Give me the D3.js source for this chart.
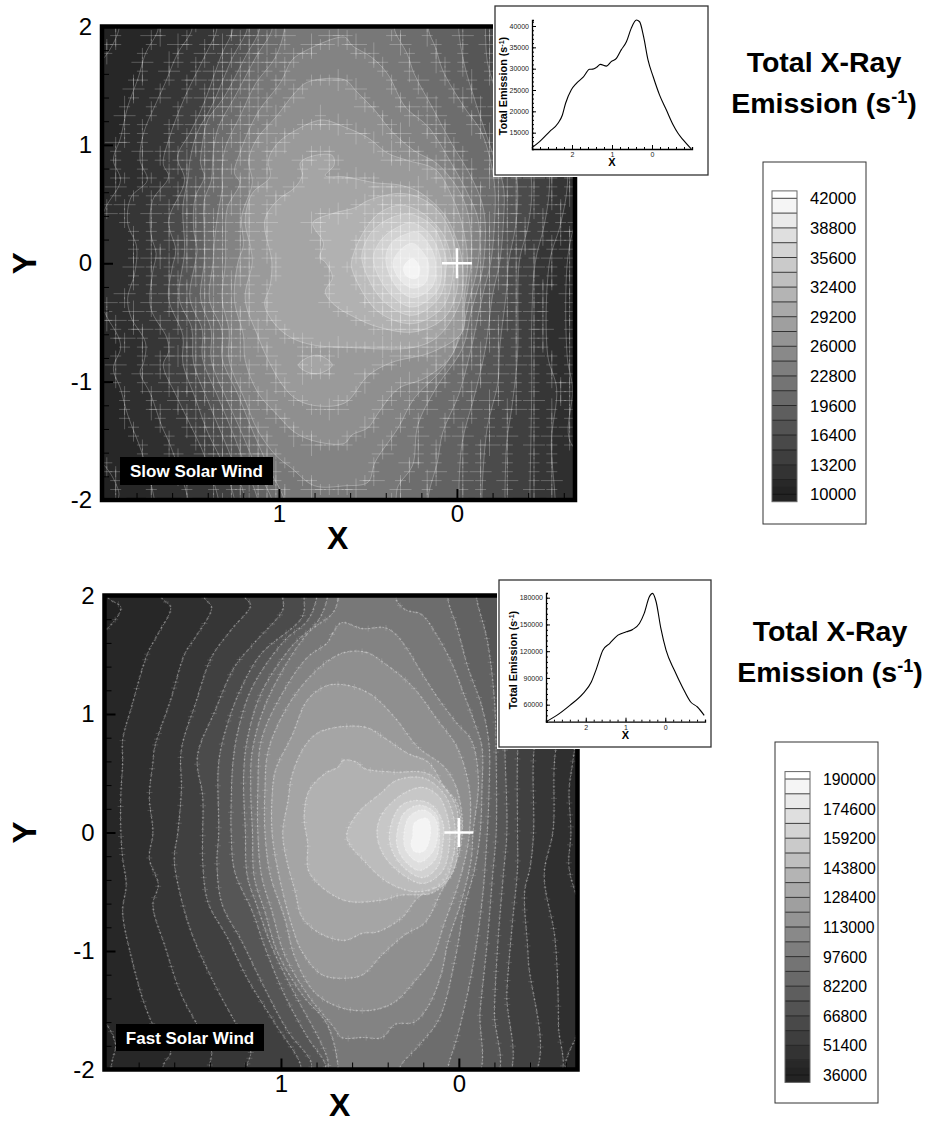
<!DOCTYPE html>
<html>
<head>
<meta charset="utf-8">
<script src="https://cdn.jsdelivr.net/npm/d3@7"></script>
<style>
  body { margin: 0; background: #fff; }
  text { font-family: "Liberation Sans", Arial, sans-serif; fill: #000; }
</style>
</head>
<body>
<div id="chart"></div>
<script>
// contour levels, one outline per level ([X, Y], points past the frame close open lines)
const slowLevels = [10000, 11600, 13200, 14800, 16400, 18000, 19600, 21200, 22800, 24400, 26000, 27600, 29200, 29200, 30800, 32400, 34000, 35600, 37200, 38800, 40400];
const slowOutlines = [
  [[1.90,2.09],[1.90,1.97],[1.98,1.74],[2.09,1.6],[2.09,-1.6],[1.98,-1.71],[1.90,-1.93],[1.90,-2.09],[-.8,-2.09],[-.8,2.09]],
  [[1.68,2.09],[1.68,1.97],[1.75,1.77],[1.79,1.57],[1.85,1.32],[1.89,1.06],[1.93,.87],[1.89,.70],[1.98,.45],[2.06,.01],[1.98,-.41],[1.90,-.63],[1.89,-.72],[1.93,-.89],[1.89,-1.06],[1.85,-1.28],[1.77,-1.60],[1.70,-2.0],[1.70,-2.09],[-.75,-2.09],[-.75,-1.75],[-.63,-1.48],[-.65,-1.06],[-.62,-.80],[-.62,.01],[-.66,.32],[-.75,.66],[-.75,1.97],[-.75,2.09]],
  [[1.49,2.09],[1.49,1.97],[1.57,1.77],[1.64,1.52],[1.70,1.32],[1.76,1.10],[1.78,.87],[1.74,.70],[1.83,.56],[1.85,.34],[1.80,.14],[1.81,-.08],[1.85,-.30],[1.83,-.46],[1.75,-.67],[1.76,-.84],[1.78,-.92],[1.72,-1.11],[1.66,-1.37],[1.61,-1.54],[1.51,-2],[1.51,-2.09],[-.55,-2.09],[-.55,-1.96],[-.53,-1.51],[-.56,-1.06],[-.51,-.78],[-.52,.01],[-.58,.32],[-.62,.66],[-.61,1.38],[-.58,1.97],[-.58,2.09]],
  [[1.35,2.09],[1.35,1.97],[1.42,1.74],[1.53,1.40],[1.62,1.04],[1.65,.84],[1.62,.73],[1.71,.53],[1.72,.25],[1.69,.08],[1.71,-.08],[1.72,-.38],[1.63,-.63],[1.62,-.75],[1.65,-.86],[1.58,-1.11],[1.49,-1.39],[1.42,-1.62],[1.34,-2],[1.34,-2.09],[-.41,-2.09],[-.41,-1.96],[-.42,-1.06],[-.42,-.50],[-.44,.01],[-.49,.32],[-.52,.66],[-.49,1.38],[-.44,1.97],[-.44,2.09]],
  [[1.26,2.09],[1.26,1.97],[1.32,1.77],[1.43,1.32],[1.50,1.10],[1.57,.90],[1.53,.70],[1.62,.36],[1.58,.11],[1.60,-.04],[1.62,-.30],[1.54,-.61],[1.54,-.84],[1.47,-1.14],[1.40,-1.43],[1.32,-1.68],[1.25,-2],[1.25,-2.09],[-.27,-2.09],[-.27,-1.96],[-.28,-1.51],[-.31,-1.20],[-.34,-.78],[-.35,.01],[-.40,.32],[-.42,.66],[-.35,1.38],[-.30,1.97],[-.30,2.09]],
  [[1.18,2.09],[1.18,1.97],[1.26,1.74],[1.38,1.32],[1.46,1.10],[1.50,.87],[1.51,.73],[1.54,.47],[1.53,.11],[1.56,-.30],[1.49,-.55],[1.48,-.84],[1.40,-1.16],[1.32,-1.45],[1.25,-1.71],[1.19,-2],[1.19,-2.09],[-.14,-2.09],[-.14,-1.96],[-.17,-1.39],[-.23,-1.01],[-.24,-.72],[-.28,-.21],[-.29,.01],[-.33,.32],[-.34,.66],[-.30,1.04],[-.21,1.49],[-.17,1.71],[-.16,1.97],[-.16,2.09]],
  [[1.11,2.09],[1.11,1.97],[1.19,1.74],[1.31,1.40],[1.40,1.21],[1.43,1.01],[1.44,.84],[1.42,.73],[1.47,.56],[1.48,.30],[1.46,.11],[1.47,.01],[1.50,-.30],[1.43,-.57],[1.43,-.80],[1.34,-1.14],[1.26,-1.43],[1.19,-1.71],[1.12,-2],[1.12,-2.09],[-.01,-2.09],[-.01,-1.96],[-.03,-1.51],[-.10,-1.11],[-.16,-.72],[-.20,-.27],[-.24,.01],[-.26,.32],[-.26,.66],[-.20,.93],[-.10,1.38],[-.04,1.69],[-.01,1.97],[-.01,2.09]],
  [[1.04,2.09],[1.04,1.97],[1.13,1.74],[1.25,1.40],[1.34,1.15],[1.37,.93],[1.38,.70],[1.42,.53],[1.42,.25],[1.42,.01],[1.44,-.30],[1.38,-.57],[1.38,-.82],[1.29,-1.16],[1.21,-1.43],[1.12,-1.75],[1.04,-2],[1.04,-2.09],[.16,-2.09],[.16,-1.96],[.11,-1.68],[.08,-1.43],[-.01,-1.11],[-.08,-.72],[-.14,-.30],[-.19,.01],[-.21,.32],[-.21,.68],[-.14,1.10],[-.04,1.32],[.08,1.63],[.12,1.82],[.16,1.97],[.16,2.09]],
  [[.97,2.09],[.97,1.97],[1.02,1.74],[1.13,1.52],[1.21,1.27],[1.30,.98],[1.32,.81],[1.32,.62],[1.34,.45],[1.36,.22],[1.37,.01],[1.39,-.31],[1.32,-.57],[1.32,-.80],[1.23,-1.11],[1.15,-1.41],[1.05,-1.75],[.97,-2],[.97,-2.09],[.37,-2.09],[.33,-1.88],[.25,-1.71],[.22,-1.37],[.12,-1.06],[-.03,-.72],[-.08,-.41],[-.15,.01],[-.15,.45],[-.08,.73],[.03,1.01],[.14,1.32],[.24,1.60],[.28,1.77],[.35,1.97],[.35,2.09]],
  [[.63,1.91],[.87,1.78],[.93,1.71],[.99,1.53],[1.12,1.27],[1.22,.93],[1.25,.76],[1.22,.68],[1.29,.47],[1.30,.22],[1.30,.01],[1.32,-.30],[1.28,-.57],[1.28,-.82],[1.19,-1.16],[1.12,-1.41],[1.02,-1.62],[.93,-1.73],[.80,-1.88],[.63,-1.88],[.50,-1.85],[.46,-1.68],[.33,-1.39],[.24,-1.14],[.08,-.89],[-.01,-.65],[-.07,-.31],[-.12,.01],[-.12,.36],[-.06,.59],[.03,.84],[.16,1.15],[.29,1.32],[.39,1.60],[.48,1.74],[.59,1.84]],
  [[.63,1.55],[.84,1.53],[.91,1.44],[1.02,1.23],[1.12,1.06],[1.17,.87],[1.15,.68],[1.21,.39],[1.20,.15],[1.23,.01],[1.25,-.31],[1.20,-.61],[1.19,-.82],[1.12,-1.09],[1.01,-1.28],[.91,-1.43],[.78,-1.51],[.63,-1.52],[.59,-1.45],[.50,-1.39],[.44,-1.26],[.33,-1.06],[.18,-.97],[.03,-.78],[-.03,-.44],[-.08,.01],[-.07,.36],[-.02,.59],[.11,.84],[.24,.95],[.37,1.12],[.46,1.29],[.57,1.46]],
  [[.63,1.15],[.76,1.21],[.91,1.12],[1.01,1.01],[1.06,.87],[1.05,.73],[1.15,.59],[1.19,.36],[1.16,.14],[1.15,.01],[1.19,-.30],[1.12,-.61],[1.06,-.82],[.98,-1.03],[.91,-1.14],[.81,-1.20],[.63,-1.18],[.50,-.95],[.37,-.84],[.14,-.75],[-.03,-.58],[-.04,-.31],[-.06,.01],[-.03,.32],[.03,.57],[.12,.79],[.28,.87],[.39,.93],[.50,1.06]],
  [[1.04,.01],[1.08,.36],[1.01,.53],[.91,.64],[.87,.74],[.88,.85],[.80,.91],[.70,.91],[.69,.83],[.74,.74],[.63,.73],[.46,.68],[.32,.66],[.21,.60],[.07,.41],[0,.19],[-.03,.01],[-.02,-.31],[.10,-.61],[.24,-.71],[.63,-.71],[.81,-.69],[.93,-.63],[1.02,-.52],[1.08,-.35],[1.05,-.19]],
  [[.89,-.86],[.83,-.79],[.77,-.78],[.70,-.86],[.77,-.93],[.84,-.92]],
  [[.81,.34],[.70,.42],[.57,.47],[.50,.53],[.33,.59],[.22,.56],[.11,.45],[.03,.24],[0,.01],[0,-.23],[.07,-.46],[.24,-.58],[.44,-.54],[.57,-.46],[.69,-.35],[.74,-.24],[.70,-.12],[.74,.01],[.77,.05],[.75,.17]],
  [[.59,.03],[.53,.25],[.44,.42],[.32,.49],[.20,.43],[.08,.25],[.03,.03],[.02,-.06],[.08,-.37],[.25,-.51],[.45,-.40],[.59,-.05]],
  [[.53,.11],[.47,.28],[.36,.39],[.25,.41],[.13,.30],[.06,.03],[.06,-.03],[.10,-.29],[.25,-.44],[.42,-.31],[.53,0]],
  [[.47,.03],[.43,.19],[.34,.30],[.25,.34],[.15,.24],[.09,.01],[.11,-.23],[.25,-.37],[.38,-.25]],
  [[.40,.03],[.37,.17],[.28,.25],[.22,.26],[.15,.14],[.12,0],[.14,-.20],[.25,-.29],[.34,-.20]],
  [[.36,0],[.32,.11],[.25,.17],[.20,.11],[.16,0],[.18,-.17],[.25,-.21],[.32,-.14]],
  [[.30,-.03],[.25,.04],[.21,-.03],[.22,-.12],[.25,-.13],[.29,-.10]]
];

const fastLevels = [36000, 43700, 51400, 59100, 66800, 74500, 82200, 89900, 97600, 105300, 113000, 120700, 128400, 136100, 143800, 151500, 159200, 166900, 174600, 182300];
const fastOutlines = [
  [[1.97,2.09],[1.97,1.98],[1.90,1.90],[1.97,1.73],[2.09,1.6],[2.09,-1.45],[1.98,-1.62],[1.93,-1.79],[1.95,-1.94],[1.95,-2.09],[-.8,-2.09],[-.8,2.09]],
  [[1.67,2.09],[1.67,1.98],[1.62,1.90],[1.69,1.68],[1.75,1.51],[1.84,1.06],[1.89,.78],[1.89,.59],[1.90,.33],[1.90,0],[1.89,-.22],[1.87,-.44],[1.89,-.67],[1.84,-1.06],[1.76,-1.48],[1.69,-1.71],[1.62,-1.85],[1.66,-1.96],[1.66,-2.09],[-.60,-2.09],[-.60,-1.94],[-.69,-1.6],[-.74,-1.0],[-.69,-.67],[-.62,-.30],[-.63,0],[-.62,.36],[-.64,.59],[-.69,1.12],[-.74,1.98],[-.74,2.09]],
  [[1.43,2.09],[1.43,1.98],[1.39,1.90],[1.48,1.65],[1.54,1.51],[1.62,1.12],[1.71,.72],[1.72,.59],[1.74,.30],[1.72,0],[1.74,-.22],[1.69,-.44],[1.72,-.61],[1.65,-.97],[1.56,-1.37],[1.43,-1.73],[1.39,-1.85],[1.40,-1.96],[1.40,-2.09],[-.55,-2.09],[-.56,-1.62],[-.54,-.89],[-.48,-.36],[-.53,.02],[-.54,.64],[-.60,1.12],[-.62,1.98],[-.62,2.09]],
  [[1.20,2.09],[1.20,1.98],[1.17,1.92],[1.28,1.71],[1.39,1.48],[1.48,1.09],[1.56,.70],[1.56,.36],[1.58,0],[1.60,-.22],[1.57,-.50],[1.50,-.86],[1.37,-1.29],[1.24,-1.65],[1.17,-1.85],[1.19,-1.96],[1.19,-2.09],[-.40,-2.09],[-.39,-1.06],[-.37,-.50],[-.40,-.30],[-.42,0],[-.42,.64],[-.46,1.12],[-.51,1.98],[-.51,2.09]],
  [[.99,2.09],[.99,1.98],[.99,1.88],[1.15,1.60],[1.26,1.40],[1.37,1.03],[1.47,.64],[1.44,.30],[1.44,0],[1.44,-.25],[1.41,-.59],[1.30,-.89],[1.19,-1.23],[1.03,-1.62],[.89,-1.96],[.89,-2.09],[-.26,-2.09],[-.27,-1.35],[-.30,-.78],[-.33,-.30],[-.33,0],[-.33,.64],[-.35,1.12],[-.40,1.98],[-.40,2.09]],
  [[.87,2.09],[.87,1.98],[.88,1.82],[1.11,1.51],[1.22,1.23],[1.30,.92],[1.35,.59],[1.35,0],[1.36,-.27],[1.33,-.61],[1.22,-.92],[1.11,-1.26],[.96,-1.68],[.83,-1.94],[.83,-2.09],[-.20,-2.09],[-.20,-1.51],[-.22,-.92],[-.25,-.36],[-.27,0],[-.26,.64],[-.25,1.12],[-.23,1.98],[-.23,2.09]],
  [[.80,2.09],[.80,1.98],[.85,1.79],[.98,1.62],[1.16,1.23],[1.24,.87],[1.27,.59],[1.28,.25],[1.28,0],[1.26,-.33],[1.16,-.67],[1.09,-.97],[.98,-1.37],[.85,-1.73],[.75,-1.96],[.75,-2.09],[-.09,-2.09],[-.12,-1.50],[-.16,-.92],[-.19,-.36],[-.21,0],[-.21,.61],[-.20,1.12],[-.16,1.62],[-.10,1.98],[-.10,2.09]],
  [[.74,2.09],[.74,1.98],[.79,1.79],[.94,1.57],[1.11,1.18],[1.19,.78],[1.21,.47],[1.20,0],[1.19,-.36],[1.13,-.64],[1.05,-.97],[.92,-1.37],[.79,-1.73],[.74,-1.90],[.71,-2.09],[.06,-2.09],[.06,-1.98],[.01,-1.73],[-.07,-1.20],[-.13,-.59],[-.16,0],[-.17,.36],[-.17,.74],[-.13,1.06],[-.05,1.40],[.01,1.73],[.06,1.96],[.06,2.09]],
  [[.68,2.09],[.68,1.96],[.71,1.85],[.85,1.68],[1.07,1.14],[1.16,.70],[1.17,.36],[1.16,0],[1.15,-.38],[1.09,-.67],[1.02,-1.01],[.88,-1.37],[.74,-1.62],[.68,-1.96],[.68,-2.09],[.33,-2.09],[.33,-1.98],[.22,-1.79],[.11,-1.57],[.02,-1.06],[-.03,-.64],[-.09,-.30],[-.12,0],[-.13,.36],[-.13,.72],[-.09,.92],[-.02,1.20],[.04,1.43],[.13,1.68],[.21,1.84],[.30,1.88],[.35,1.96],[.35,2.09]],
  [[.74,1.60],[.71,1.68],[.66,1.77],[.54,1.72],[.42,1.73],[.36,1.68],[.30,1.57],[.21,1.35],[.12,1.14],[.01,.92],[-.07,.78],[-.11,.44],[-.08,0],[-.07,-.22],[-.02,-.55],[.06,-.92],[.10,-1.20],[.17,-1.46],[.25,-1.60],[.36,-1.62],[.43,-1.73],[.54,-1.73],[.66,-1.73],[.70,-1.65],[.85,-1.37],[.98,-1.03],[1.05,-.67],[1.11,-.36],[1.13,0],[1.13,.36],[1.11,.78],[.99,1.18],[.85,1.48]],
  [[.64,1.52],[.52,1.52],[.42,1.43],[.26,1.23],[.12,.95],[.01,.72],[-.06,.36],[-.06,0],[-.04,-.19],[.01,-.47],[.08,-.76],[.15,-1.06],[.25,-1.26],[.36,-1.43],[.49,-1.50],[.66,-1.48],[.81,-1.35],[.92,-1.06],[.98,-.72],[1.06,-.36],[1.09,0],[1.09,.36],[1.07,.70],[.94,1.12],[.77,1.41]],
  [[.74,1.24],[.62,1.24],[.49,1.16],[.36,.97],[.23,.72],[.08,.55],[.01,.36],[-.02,0],[.02,-.27],[.10,-.50],[.19,-.76],[.30,-.86],[.43,-1.03],[.54,-1.20],[.64,-1.23],[.77,-1.20],[.88,-1.01],[.94,-.78],[1.02,-.30],[1.05,0],[1.05,.30],[1.03,.53],[.94,.81],[.85,1.12]],
  [[.78,.85],[.53,.89],[.40,.78],[.29,.67],[.17,.59],[.08,.38],[.01,.25],[-.01,0],[.04,-.22],[.10,-.42],[.23,-.55],[.32,-.72],[.46,-.84],[.54,-.85],[.64,-.91],[.77,-.86],[.88,-.72],[.92,-.50],[.97,-.22],[.99,0],[.96,.27],[.94,.47],[.87,.72]],
  [[.68,.55],[.65,.61],[.57,.59],[.53,.54],[.37,.51],[.18,.50],[.07,.36],[.01,.19],[.01,-.02],[.01,-.21],[.05,-.38],[.15,-.51],[.33,-.53],[.43,-.57],[.65,-.57],[.84,-.34],[.85,-.09],[.87,.13],[.84,.36],[.74,.51]],
  [[.63,-.04],[.57,.16],[.44,.33],[.35,.44],[.20,.46],[.09,.34],[.04,.19],[.02,0],[.04,-.26],[.09,-.43],[.24,-.50],[.40,-.42],[.52,-.26]],
  [[.46,0],[.43,.16],[.31,.33],[.20,.38],[.11,.30],[.06,.11],[.05,-.04],[.09,-.32],[.20,-.43],[.33,-.34],[.43,-.17]],
  [[.39,0],[.33,.22],[.24,.27],[.15,.23],[.09,.08],[.09,-.09],[.12,-.29],[.20,-.38],[.29,-.32],[.37,-.17]],
  [[.35,-.04],[.31,.16],[.22,.23],[.13,.16],[.11,0],[.13,-.22],[.22,-.32],[.29,-.26],[.34,-.15]],
  [[.31,-.06],[.28,.13],[.20,.19],[.13,.11],[.12,-.04],[.15,-.17],[.22,-.25],[.29,-.17]],
  [[.26,-.04],[.25,.08],[.18,.12],[.16,.05],[.17,-.09],[.20,-.16],[.25,-.16],[.27,-.09]]
];

// inset curves
const slowCurveX = [3,2.81,2.56,2.35,2.24,2.16,2.02,1.89,1.72,1.56,1.48,1.39,1.29,1.14,1.02,.89,.77,.64,.52,.39,.31,.21,.10,-.03,-.19,-.36,-.53,-.65,-.78,-.98];
const slowCurveY = [11500,12900,15250,17200,19150,21900,25000,26550,28000,29850,29900,30300,31000,30600,31650,32400,34400,36300,39450,41400,41000,37500,32050,28100,23800,20300,16800,14850,13300,11200];
const fastCurveX = [3,2.73,2.40,2.07,1.86,1.73,1.57,1.40,1.19,.98,.82,.65,.53,.40,.32,.23,.11,-.02,-.23,-.43,-.64,-.81,-.98];
const fastCurveY = [41000,48000,59250,72400,85500,100500,121100,128600,138000,141750,144400,151100,162400,181100,184900,175500,145500,121100,98600,79900,63000,57400,48000];

const slowLegendLabels = [42000,38800,35600,32400,29200,26000,22800,19600,16400,13200,10000];
const fastLegendLabels = [190000,174600,159200,143800,128400,113000,97600,82200,66800,51400,36000];

const xTickLabels = [1, 0];
const yTickLabels = [2, 1, 0, -1, -2];

const svg = d3.select('#chart').append('svg')
  .attr('width', 925)
  .attr('height', 1124);

let panelId = 0;

function drawContours(cfg) {
  const x = d3.scaleLinear().domain(cfg.xDomain).range(cfg.xRange);
  const y = d3.scaleLinear().domain([2, -2]).range(cfg.yRange);
  const span = cfg.valueRange[1] - cfg.valueRange[0];
  // the flood runs a little darker than the legend at its low end
  const grey = d3.scaleLinear()
    .domain([cfg.valueRange[0], cfg.valueRange[0] + span * 0.15, cfg.valueRange[1]])
    .range(['#232323', '#3a3a3a', '#fafafa']);
  const step = cfg.step;

  const id = 'clip' + (panelId++);
  svg.append('clipPath').attr('id', id).append('rect')
    .attr('x', cfg.xRange[0]).attr('y', cfg.yRange[0])
    .attr('width', cfg.xRange[1] - cfg.xRange[0])
    .attr('height', cfg.yRange[1] - cfg.yRange[0]);

  const plot = svg.append('g').attr('clip-path', 'url(#' + id + ')');

  plot.append('rect')
    .attr('x', cfg.xRange[0]).attr('y', cfg.yRange[0])
    .attr('width', cfg.xRange[1] - cfg.xRange[0])
    .attr('height', cfg.yRange[1] - cfg.yRange[0])
    .attr('fill', '#222');

  const outline = d3.line()
    .x(d => x(d[0]))
    .y(d => y(d[1]))
    .curve(d3.curveCatmullRomClosed.alpha(0.5));

  const paths = plot.selectAll('path.band')
    .data(cfg.outlines)
    .enter()
    .append('path')
    .attr('class', 'band')
    .attr('d', outline)
    .attr('fill', (d, i) => grey(cfg.levels[i] + step / 2))
    .attr('stroke', 'rgba(255,255,255,' + cfg.lineAlpha + ')')
    .attr('stroke-width', 0.9)
    .attr('stroke-dasharray', cfg.dash);

  // the mesh shows through along each contour line, like in the tecplot export
  let d = '';
  const seen = new Set();
  paths.each(function() {
    const len = this.getTotalLength();
    for (let s = 0; s < len; s += cfg.walk) {
      const p = this.getPointAtLength(s);
      if (p.x < cfg.xRange[0] || p.x > cfg.xRange[1] || p.y < cfg.yRange[0] || p.y > cfg.yRange[1]) continue;
      const ix = Math.round(p.x / cfg.cell);
      const iy = Math.round(p.y / cfg.cell);
      const key = ix + '_' + iy;
      if (seen.has(key)) continue;
      seen.add(key);
      const gx = cfg.snap ? ix * cfg.cell : p.x;
      const gy = cfg.snap ? iy * cfg.cell : p.y;
      const hArm = (ix * 3 + iy) % 5 === 0 ? cfg.arm * 2 : cfg.arm;
      const vArm = (ix + iy * 3) % 5 === 0 ? cfg.arm * 2 : cfg.arm;
      d += 'M' + (gx - hArm) + ',' + gy + 'H' + (gx + hArm);
      d += 'M' + gx + ',' + (gy - vArm) + 'V' + (gy + vArm);
    }
  });
  plot.append('path')
    .attr('d', d)
    .attr('fill', 'none')
    .attr('stroke', 'rgba(255,255,255,' + cfg.meshAlpha + ')')
    .attr('stroke-width', cfg.meshWidth);

  // frame
  svg.append('rect')
    .attr('x', cfg.xRange[0]).attr('y', cfg.yRange[0])
    .attr('width', cfg.xRange[1] - cfg.xRange[0])
    .attr('height', cfg.yRange[1] - cfg.yRange[0])
    .attr('fill', 'none')
    .attr('stroke', '#000')
    .attr('stroke-width', 4.5);

  // axes, ticks point into the plot
  const minorX = d3.range(-0.6, 1.99, 0.2);
  const minorY = d3.range(-1.8, 1.99, 0.2);
  svg.append('g')
    .attr('transform', 'translate(0,' + cfg.yRange[1] + ')')
    .call(d3.axisBottom(x).tickValues(minorX).tickSize(-7).tickFormat(''))
    .call(g => g.select('.domain').remove());
  svg.append('g')
    .attr('transform', 'translate(' + cfg.xRange[0] + ',0)')
    .call(d3.axisLeft(y).tickValues(minorY).tickSize(-7).tickFormat(''))
    .call(g => g.select('.domain').remove());

  const xMajor = svg.append('g')
    .attr('transform', 'translate(0,' + cfg.yRange[1] + ')')
    .call(d3.axisBottom(x).tickValues(xTickLabels).tickSize(-11).tickPadding(5).tickFormat(d => d))
    .call(g => g.select('.domain').remove());
  const yMajor = svg.append('g')
    .attr('transform', 'translate(' + cfg.xRange[0] + ',0)')
    .call(d3.axisLeft(y).tickValues(yTickLabels).tickSize(-11).tickPadding(10).tickFormat(d => d))
    .call(g => g.select('.domain').remove());
  xMajor.selectAll('line').attr('stroke-width', 2);
  yMajor.selectAll('line').attr('stroke-width', 2);
  xMajor.selectAll('text').style('font-size', '24px');
  yMajor.selectAll('text').style('font-size', '24px');

  svg.append('text')
    .attr('x', x(0.67)).attr('y', cfg.xLabelY)
    .attr('text-anchor', 'middle')
    .style('font-size', '32px').style('font-weight', 'bold')
    .text('X');
  svg.append('text')
    .attr('transform', 'translate(36,' + y(0) + ') rotate(-90)')
    .attr('text-anchor', 'middle')
    .style('font-size', '33px').style('font-weight', 'bold')
    .text('Y');

  // sun marker
  const cross = svg.append('g').attr('stroke', '#fff').attr('stroke-width', 2.5);
  cross.append('line').attr('x1', x(0) - cfg.crossArm).attr('x2', x(0) + cfg.crossArm).attr('y1', y(0)).attr('y2', y(0));
  cross.append('line').attr('x1', x(0)).attr('x2', x(0)).attr('y1', y(0) - cfg.crossArm).attr('y2', y(0) + cfg.crossArm);

  svg.append('rect')
    .attr('x', cfg.tagBox[0]).attr('y', cfg.tagBox[1])
    .attr('width', cfg.tagBox[2]).attr('height', cfg.tagBox[3])
    .attr('fill', '#000');
  svg.append('text')
    .attr('x', cfg.tagBox[0] + cfg.tagBox[2] / 2)
    .attr('y', cfg.tagBox[1] + cfg.tagBox[3] / 2 + 6)
    .attr('text-anchor', 'middle')
    .style('fill', '#fff').style('font-size', '17px').style('font-weight', 'bold')
    .text(cfg.tag);
}

function drawInset(cfg) {
  svg.append('rect')
    .attr('x', cfg.box[0] - 2).attr('y', cfg.box[1] - 2)
    .attr('width', cfg.box[2] + 4).attr('height', cfg.box[3] + 4)
    .attr('fill', '#fff');
  svg.append('rect')
    .attr('x', cfg.box[0]).attr('y', cfg.box[1])
    .attr('width', cfg.box[2]).attr('height', cfg.box[3])
    .attr('fill', '#fff')
    .attr('stroke', '#333')
    .attr('stroke-width', 1.3);

  const x = d3.scaleLinear().domain([3, -1]).range(cfg.xRange);
  const y = d3.scaleLinear().domain(cfg.yDomain).range(cfg.yRange);

  const axisX = svg.append('g')
    .attr('transform', 'translate(0,' + cfg.yRange[0] + ')')
    .call(d3.axisBottom(x).tickValues(d3.range(-1, 3.01, 0.2)).tickSize(-2).tickFormat(''));
  const majorX = svg.append('g')
    .attr('transform', 'translate(0,' + cfg.yRange[0] + ')')
    .call(d3.axisBottom(x).tickValues([2, 1, 0]).tickSize(-4).tickPadding(3).tickFormat(d3.format('d')));
  const axisY = svg.append('g')
    .attr('transform', 'translate(' + cfg.xRange[0] + ',0)')
    .call(d3.axisLeft(y).tickValues(d3.range(cfg.minorFrom, cfg.yDomain[1], cfg.minorStep)).tickSize(-2).tickFormat(''));
  const majorY = svg.append('g')
    .attr('transform', 'translate(' + cfg.xRange[0] + ',0)')
    .call(d3.axisLeft(y).tickValues(cfg.yTicks).tickSize(-4).tickPadding(3).tickFormat(d3.format('d')));
  [majorX, majorY].forEach(a => {
    a.selectAll('text').style('font-size', '7px').style('fill', '#222');
    a.select('.domain').remove();
  });
  axisX.select('.domain').attr('stroke-width', 1.3);
  axisY.select('.domain').attr('stroke-width', 1.3);

  const line = d3.line()
    .x(d => x(d[0]))
    .y(d => y(d[1]))
    .curve(d3.curveMonotoneX);
  svg.append('path')
    .attr('d', line(d3.zip(cfg.curveX, cfg.curveY)))
    .attr('fill', 'none')
    .attr('stroke', '#000')
    .attr('stroke-width', 1.1);

  svg.append('text')
    .attr('x', x(1)).attr('y', cfg.yRange[0] + 17)
    .attr('text-anchor', 'middle')
    .style('font-size', '11px').style('font-weight', 'bold')
    .text('X');
  const yTitle = svg.append('text')
    .attr('transform', 'translate(' + cfg.yTitleX + ',' + cfg.yTitleY + ') rotate(-90)')
    .attr('text-anchor', 'middle')
    .style('font-size', '10.8px').style('font-weight', 'bold');
  yTitle.append('tspan').text('Total Emission (s');
  yTitle.append('tspan').attr('dy', -3.5).style('font-size', '7px').text('-1');
  yTitle.append('tspan').attr('dy', 3.5).text(')');
}

function drawLegend(cfg) {
  const grey = d3.scaleLinear().domain(cfg.valueRange).range(['#232323', '#fafafa']);
  const y = d3.scaleLinear().domain(cfg.valueRange).range(cfg.levelRange);
  const step = cfg.step;

  svg.append('rect')
    .attr('x', cfg.box[0]).attr('y', cfg.box[1])
    .attr('width', cfg.box[2]).attr('height', cfg.box[3])
    .attr('fill', '#fff')
    .attr('stroke', '#333')
    .attr('stroke-width', 1);

  const bands = cfg.levels.concat([cfg.valueRange[0] - step / 2]);
  svg.append('g').selectAll('rect')
    .data(bands)
    .enter()
    .append('rect')
    .attr('x', cfg.swatchX)
    .attr('width', 25)
    .attr('y', d => y(d + step))
    .attr('height', d => y(d) - y(d + step))
    .attr('fill', d => grey(d + step / 2));
  svg.append('rect')
    .attr('x', cfg.swatchX)
    .attr('width', 25)
    .attr('y', y(cfg.valueRange[1] + step / 2))
    .attr('height', y(cfg.valueRange[1]) - y(cfg.valueRange[1] + step / 2))
    .attr('fill', '#fff');

  const levelLines = cfg.levels.concat([cfg.valueRange[1]]);
  svg.append('g').selectAll('line')
    .data(levelLines)
    .enter()
    .append('line')
    .attr('x1', cfg.swatchX)
    .attr('x2', cfg.swatchX + 25)
    .attr('y1', d => y(d))
    .attr('y2', d => y(d))
    .attr('stroke', '#111')
    .attr('stroke-width', 0.8);
  svg.append('rect')
    .attr('x', cfg.swatchX)
    .attr('width', 25)
    .attr('y', y(cfg.valueRange[1] + step / 2))
    .attr('height', y(cfg.valueRange[0] - step / 2) - y(cfg.valueRange[1] + step / 2))
    .attr('fill', 'none')
    .attr('stroke', '#666')
    .attr('stroke-width', 1);

  svg.append('g').selectAll('text')
    .data(cfg.labels)
    .enter()
    .append('text')
    .attr('x', cfg.swatchX + 38)
    .attr('y', d => y(d) + 6)
    .style('font-size', cfg.labelSize)
    .text(d => d);

  svg.append('text')
    .attr('x', cfg.titleX).attr('y', cfg.titleY)
    .attr('text-anchor', 'middle')
    .style('font-size', '28.5px').style('font-weight', 'bold')
    .text('Total X-Ray');
  const second = svg.append('text')
    .attr('x', cfg.titleX).attr('y', cfg.titleY + 41)
    .attr('text-anchor', 'middle')
    .style('font-size', '28.5px').style('font-weight', 'bold');
  second.append('tspan').text('Emission (s');
  second.append('tspan').attr('dy', -10).style('font-size', '18px').text('-1');
  second.append('tspan').attr('dy', 10).text(')');
}

drawContours({
  levels: slowLevels, outlines: slowOutlines, valueRange: [10000, 42000], step: 1600,
  xDomain: [1.994, -0.663], xRange: [102, 575], yRange: [26.5, 500],
  lineAlpha: 0.3, dash: null, walk: 5, cell: 8.9, snap: true, arm: 5.5, meshAlpha: 0.24, meshWidth: 1,
  xLabelY: 549, crossArm: 15, tagBox: [120, 457, 153, 28], tag: 'Slow Solar Wind'
});
drawContours({
  levels: fastLevels, outlines: fastOutlines, valueRange: [36000, 190000], step: 7700,
  xDomain: [1.992, -0.667], xRange: [104.5, 577.5], yRange: [595.5, 1069.5],
  lineAlpha: 0.38, dash: '2 1.5', walk: 6, cell: 1, snap: false, arm: 1.5, meshAlpha: 0.22, meshWidth: 0.7,
  xLabelY: 1116, crossArm: 14.5, tagBox: [116, 1024, 148, 27], tag: 'Fast Solar Wind'
});

drawInset({
  box: [495, 6, 213, 169], xRange: [532, 692], yRange: [149, 20], yDomain: [11170, 41410],
  yTicks: [40000, 35000, 30000, 25000, 20000, 15000], minorFrom: 12000, minorStep: 1000,
  curveX: slowCurveX, curveY: slowCurveY, yTitleX: 507, yTitleY: 86
});
drawInset({
  box: [499, 580, 212, 167], xRange: [546, 705], yRange: [721.7, 593], yDomain: [40900, 185300],
  yTicks: [180000, 150000, 120000, 90000, 60000], minorFrom: 42000, minorStep: 6000,
  curveX: fastCurveX, curveY: fastCurveY, yTitleX: 517, yTitleY: 660
});

drawLegend({
  levels: slowLevels.filter((d, i, a) => a.indexOf(d) === i), labels: slowLegendLabels, valueRange: [10000, 42000], step: 1600,
  levelRange: [494.3, 198.3], box: [763, 162, 103, 362], swatchX: 772, labelSize: '16.6px', titleX: 824, titleY: 72
});
drawLegend({
  levels: fastLevels, labels: fastLegendLabels, valueRange: [36000, 190000], step: 7700,
  levelRange: [1075, 779], box: [775, 742, 103, 361], swatchX: 785, labelSize: '15.8px', titleX: 830, titleY: 641
});
</script>
</body>
</html>
